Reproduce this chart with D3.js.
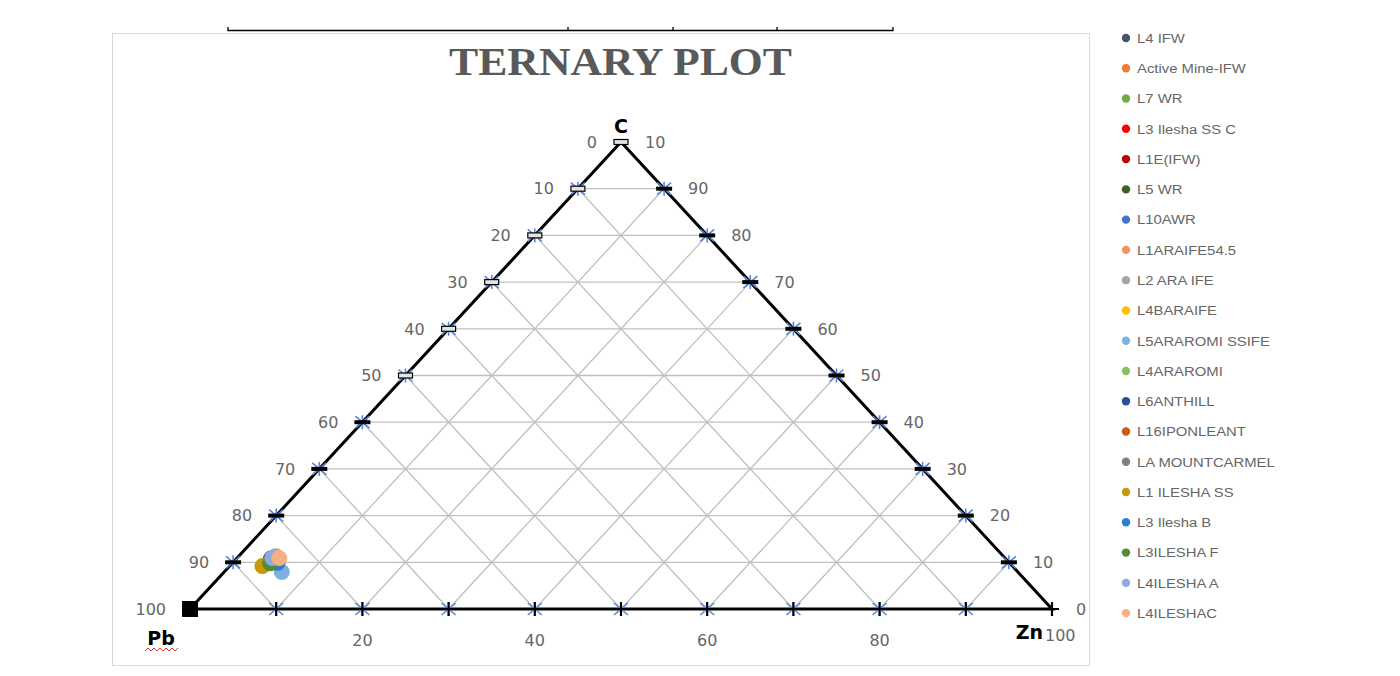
<!DOCTYPE html>
<html>
<head>
<meta charset="utf-8">
<script src="https://cdn.jsdelivr.net/npm/d3@7"></script>
<style>
  body { margin: 0; background: #fff; }
  text { font-family: "DejaVu Sans", sans-serif; }
</style>
</head>
<body>
<script>
// sample names and colours, in legend order
const seriesNames = ["L4 IFW", "Active Mine-IFW", "L7 WR", "L3 Ilesha SS C", "L1E(IFW)", "L5 WR",
  "L10AWR", "L1ARAIFE54.5", "L2 ARA IFE", "L4BARAIFE", "L5ARAROMI SSIFE", "L4ARAROMI",
  "L6ANTHILL", "L16IPONLEANT", "LA MOUNTCARMEL", "L1 ILESHA SS", "L3 Ilesha B", "L3ILESHA F",
  "L4ILESHA A", "L4ILESHAC"]
const seriesColors = ["#44546a", "#ed7d31", "#70ad47", "#ff0000", "#c00000", "#3b6125",
  "#4472c4", "#f1955c", "#a5a5a5", "#ffc000", "#7eb0e0", "#86c262",
  "#2c4d9a", "#cf5a17", "#7f7f7f", "#c59a06", "#2e7dd1", "#548c35",
  "#8faadc", "#f4b183"]
// composition (%)
const pbValues = [85.2, 84.5, 84.8, 85.0, 84.9, 85.1, 85.0, 84.7, 84.4, 85.3, 85.4, 85.2, 84.8, 84.6, 84.9, 87.0, 84.9, 85.8, 85.0, 84.2]
const znValues = [4.0, 4.6, 4.4, 4.5, 4.3, 4.7, 4.9, 4.8, 4.3, 4.4, 6.7, 4.8, 4.6, 5.0, 4.5, 3.8, 5.2, 4.4, 4.1, 4.9]
const cValues  = [10.8, 10.9, 10.8, 10.5, 10.8, 10.2, 10.1, 10.5, 11.3, 10.3, 7.9, 10.0, 10.6, 10.4, 10.6, 9.2, 9.9, 9.8, 10.9, 10.9]

const gridSteps = [10, 20, 30, 40, 50, 60, 70, 80, 90]
const leftLabels = ["0", "10", "20", "30", "40", "50", "60", "70", "80", "90", "100"]   // top to Pb corner
const rightLabels = ["10", "90", "80", "70", "60", "50", "40", "30", "20", "10", "0"]   // top to Zn corner
const bottomTicks = [20, 40, 60, 80]

const W = 1400, H = 676
const svg = d3.select("body").append("svg").attr("width", W).attr("height", H)

const zn = d3.scaleLinear().domain([0, 100]).range([190, 1052])
const cy = d3.scaleLinear().domain([0, 100]).range([609, 142])
const px = (z, c) => zn(z) + (zn(c) - zn(0)) / 2
const pt = (z, c) => [px(z, c), cy(c)]

// chart area frame + stray table border above
svg.append("rect").attr("x", 112.5).attr("y", 33.5).attr("width", 977).attr("height", 632)
  .attr("fill", "none").attr("stroke", "#d9d9d9")
svg.append("path").attr("d", "M228,27V30.5H893V27M568,30V27M673,30V27M777,30V27")
  .attr("fill", "none").attr("stroke", "#000").attr("stroke-width", 1.3)

svg.append("text").attr("x", 449).attr("y", 75)
  .attr("textLength", 343).attr("lengthAdjust", "spacingAndGlyphs")
  .style("font-family", "'Liberation Serif', serif").style("font-weight", "bold")
  .style("font-size", "40px").attr("fill", "#595959").text("TERNARY PLOT")

// grid
const line = d3.line()
const grid = svg.append("g").attr("stroke", "#bfbfbf").attr("stroke-width", 1.3).attr("fill", "none")
gridSteps.forEach(k => {
  grid.append("path").attr("d", line([pt(0, k), pt(100 - k, k)]))
  grid.append("path").attr("d", line([pt(k, 0), pt(k, 100 - k)]))
  grid.append("path").attr("d", line([pt(100 - k, 0), pt(0, 100 - k)]))
})

// triangle
svg.append("path").attr("d", line([pt(0, 0), pt(100, 0), pt(0, 100)]) + "Z")
  .attr("fill", "none").attr("stroke", "#000").attr("stroke-width", 3).attr("stroke-linejoin", "miter")

// blue star markers on the edges
const edgePts = []
gridSteps.forEach(k => { edgePts.push(pt(0, k), pt(100 - k, k), pt(k, 0)) })
svg.append("g").attr("stroke", "#5a86d8").attr("stroke-width", 1.6)
  .selectAll("path").data(edgePts).join("path")
  .attr("d", ([x, y]) => `M${x - 7},${y - 6}L${x + 7},${y + 6}M${x - 7},${y + 6}L${x + 7},${y - 6}M${x},${y - 7}V${y + 7}`)

// black tick markers
const marks = svg.append("g")
marks.selectAll(".hollow").data([100, 90, 80, 70, 60, 50]).join("rect")
  .attr("x", c => px(0, c) - 7).attr("y", c => cy(c) - 2.5).attr("width", 14).attr("height", 5)
  .attr("fill", "#e4e4e4").attr("stroke", "#000").attr("stroke-width", 1.2)
marks.selectAll(".barL").data([40, 30, 20, 10]).join("rect")
  .attr("x", c => px(0, c) - 8).attr("y", c => cy(c) - 2).attr("width", 16).attr("height", 4).attr("fill", "#000")
marks.selectAll(".barR").data(gridSteps).join("rect")
  .attr("x", c => px(100 - c, c) - 8).attr("y", c => cy(c) - 2).attr("width", 16).attr("height", 4).attr("fill", "#000")
marks.selectAll(".plus").data(gridSteps.concat([100])).join("path")
  .attr("d", z => `M${zn(z) - 7},${cy(0)}H${zn(z) + 7}M${zn(z)},${cy(0) - 7}V${cy(0) + 7}`)
  .attr("stroke", "#000").attr("stroke-width", 2.2)
marks.append("rect").attr("x", zn(0) - 8).attr("y", cy(0) - 8).attr("width", 16).attr("height", 16).attr("fill", "#000")

// tick labels
const lab = svg.append("g").attr("fill", "#666").style("font-size", "16px")
lab.selectAll(".l").data(leftLabels).join("text")
  .attr("x", (d, i) => px(0, 100 - i * 10) - 24).attr("y", (d, i) => cy(100 - i * 10)).attr("dy", "0.36em")
  .attr("text-anchor", "end").text(d => d)
lab.selectAll(".r").data(rightLabels).join("text")
  .attr("x", (d, i) => px(i * 10, 100 - i * 10) + 24).attr("y", (d, i) => cy(100 - i * 10)).attr("dy", "0.36em")
  .text(d => d)
lab.selectAll(".b").data(bottomTicks).join("text")
  .attr("x", d => zn(d)).attr("y", 646).attr("text-anchor", "middle").text(d => d)
lab.append("text").attr("x", zn(100) - 7).attr("y", 641).text("100")

// vertex names
const vx = svg.append("g").style("font-size", "19px").style("font-weight", "bold").attr("fill", "#000")
vx.append("text").attr("x", px(0, 100)).attr("y", 133).attr("text-anchor", "middle").text("C")
vx.append("text").attr("x", 161).attr("y", 645).attr("text-anchor", "middle").text("Pb")
vx.append("text").attr("x", 1043).attr("y", 639).attr("text-anchor", "end").text("Zn")
svg.append("path").attr("d", d3.range(145, 179, 3).map((x, i) => (i ? "L" : "M") + x + "," + (i % 2 ? 648 : 651)).join(""))
  .attr("fill", "none").attr("stroke", "#e03030").attr("stroke-width", 1)

// points
svg.append("g").selectAll("circle").data(seriesNames).join("circle")
  .attr("cx", (d, i) => px(znValues[i], cValues[i]))
  .attr("cy", (d, i) => cy(cValues[i]))
  .attr("r", 8)
  .attr("fill", (d, i) => seriesColors[i])

// legend
const leg = svg.append("g").selectAll("g").data(seriesNames).join("g")
  .attr("transform", (d, i) => `translate(1126, ${38 + i * 30.27})`)
leg.append("circle").attr("r", 4.2).attr("fill", (d, i) => seriesColors[i])
leg.append("text").attr("x", 10).attr("dy", "0.36em")
  .attr("transform", "scale(1.1,1)")
  .style("font-family", "'Liberation Sans', Arial, sans-serif").style("font-size", "13.5px")
  .attr("fill", "#666").text(d => d)
</script>
</body>
</html>
